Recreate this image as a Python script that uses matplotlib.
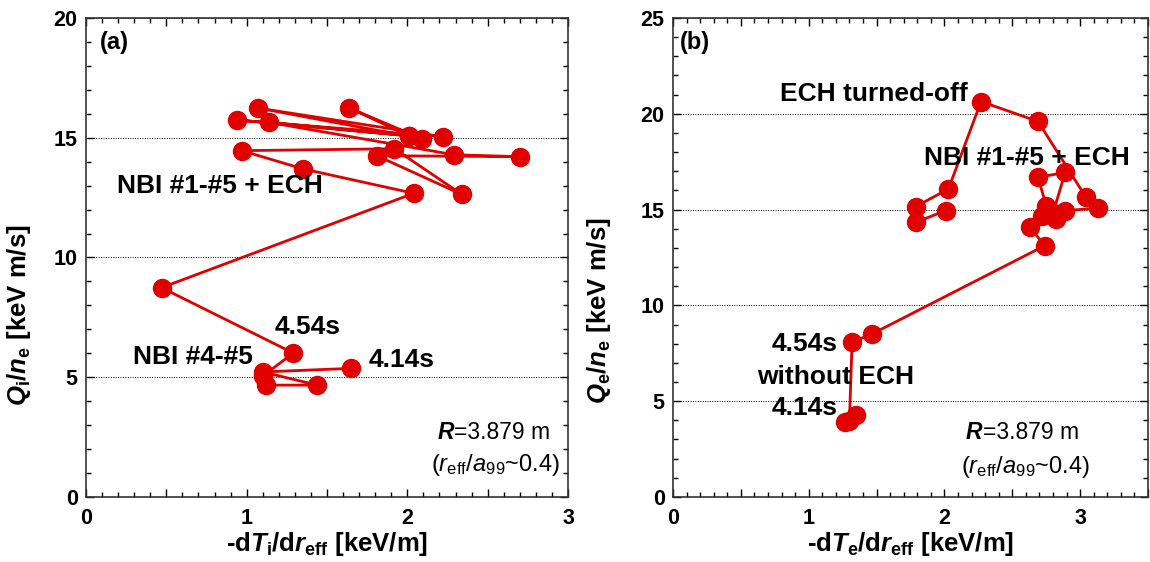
import matplotlib
matplotlib.use("Agg")
import matplotlib.pyplot as plt
from matplotlib.ticker import MultipleLocator, FuncFormatter

plt.rcParams["font.family"] = ["Liberation Sans", "DejaVu Sans"]
plt.rcParams["font.weight"] = "bold"
plt.rcParams["axes.labelweight"] = "bold"
plt.rcParams["mathtext.fontset"] = "custom"
plt.rcParams["mathtext.rm"] = "Liberation Sans:weight=bold"
plt.rcParams["mathtext.it"] = "Liberation Sans:style=italic:weight=bold"
plt.rcParams["mathtext.bf"] = "Liberation Sans:weight=bold"
plt.rcParams["mathtext.sf"] = "Liberation Sans:weight=normal"
plt.rcParams["mathtext.tt"] = "Liberation Sans:style=italic:weight=normal"

# (a) ion channel, time trajectory from 4.14 s
dTi = [1.65, 1.10, 1.44, 1.12, 1.10, 1.29, 0.47, 2.04, 1.35, 0.97, 1.92, 2.34,
       1.81, 2.70, 2.29, 1.14, 2.01, 0.94, 2.22, 1.07, 2.09, 1.64, 2.01]
Qi = [5.37, 5.22, 4.67, 4.67, 5.05, 6.01, 8.74, 12.68, 13.70, 14.46, 14.54, 12.63,
      14.25, 14.21, 14.29, 15.64, 15.08, 15.74, 15.04, 16.24, 14.96, 16.24, 15.08]

# (b) electron channel
dTe = [1.27, 1.35, 1.30, 1.32, 1.47, 2.74, 2.63, 2.72, 2.82, 2.75, 2.69, 2.89,
       2.80, 2.89, 3.13, 3.04, 2.69, 2.27, 2.03, 1.79, 1.79, 2.01]
Qe = [3.92, 4.30, 3.95, 8.09, 8.52, 13.12, 14.08, 14.69, 14.51, 15.21, 16.68, 16.94,
      14.80, 14.95, 15.07, 15.68, 19.60, 20.64, 16.08, 15.16, 14.34, 14.95]

red = "#e00000"

fig = plt.figure(figsize=(11.5, 5.62), dpi=100)
axa = fig.add_axes([0.0748, 0.1157, 0.4191, 0.8523])
axb = fig.add_axes([0.5852, 0.1157, 0.4130, 0.8523])


def style(ax, xmax, ymax):
    ax.set_xlim(0, xmax)
    ax.set_ylim(0, ymax)
    ax.xaxis.set_major_locator(MultipleLocator(0.5))
    ax.xaxis.set_minor_locator(MultipleLocator(0.1))
    ax.xaxis.set_major_formatter(FuncFormatter(lambda v, p: f"{v:.0f}" if abs(v - round(v)) < 1e-6 else ""))
    ax.yaxis.set_major_locator(MultipleLocator(5))
    ax.yaxis.set_minor_locator(MultipleLocator(1))
    ax.tick_params(which="both", direction="in", top=True, right=True, labelsize=15.5)
    ax.tick_params(which="major", length=6, width=1)
    ax.tick_params(which="minor", length=3.5, width=1)
    ax.tick_params(axis="x", which="major", pad=8)
    ax.tick_params(axis="y", which="major", pad=6)
    ax.grid(axis="y", which="major", linestyle=(0, (1, 1.5)), color="k", linewidth=0.7)
    for s in ax.spines.values():
        s.set_linewidth(1.2)
        s.set_color("#333333")


style(axa, 3, 20)
style(axb, 3.5, 25)

axa.plot(dTi, Qi, "-o", color=red, lw=2, ms=13, zorder=3)
axb.plot(dTe, Qe, "-o", color=red, lw=2, ms=13, zorder=3)

axa.set_xlabel(r"-d$T_{\mathrm{i}}$/d$r_{\mathrm{eff}}$ [keV/m]", fontsize=18.5)
axb.set_xlabel(r"-d$T_{\mathrm{e}}$/d$r_{\mathrm{eff}}$ [keV/m]", fontsize=18.5)
axa.set_ylabel(r"$Q_{\mathrm{i}}/n_{\mathrm{e}}$ [keV m/s]", fontsize=18.5)
axb.set_ylabel(r"$Q_{\mathrm{e}}/n_{\mathrm{e}}$ [keV m/s]", fontsize=18.5)
axa.xaxis.set_label_coords(0.5, -0.068)
axb.xaxis.set_label_coords(0.5, -0.068)
axa.yaxis.set_label_coords(-0.11, 0.38)
axb.yaxis.set_label_coords(-0.126, 0.39)

ann = dict(fontsize=19, fontweight="bold", va="center")
axa.text(0.029, 0.948, "(a)", transform=axa.transAxes, ha="left", fontsize=17, va="center")
axa.text(0.19, 13.0, "NBI #1-#5 + ECH", ha="left", **ann)
axa.text(1.175, 7.08, "4.54s", ha="left", **ann)
axa.text(0.29, 5.83, "NBI #4-#5", ha="left", **ann)
axa.text(1.76, 5.7, "4.14s", ha="left", **ann)

axb.text(0.015, 0.948, "(b)", transform=axb.transAxes, ha="left", fontsize=17, va="center")
axb.text(2.17, 21.04, "ECH turned-off", ha="right", **ann)
axb.text(1.85, 17.7, "NBI #1-#5 + ECH", ha="left", **ann)
axb.text(1.21, 8.0, "4.54s", ha="right", **ann)
axb.text(1.20, 6.25, "without ECH", ha="center", **ann)
axb.text(1.21, 4.63, "4.14s", ha="right", **ann)


def rlabel(ax, x, y1, y2):
    t = ax.text(x, y1, "R", fontsize=16.5, style="italic", fontweight="bold", ha="left", va="center")
    ax.annotate("=3.879 m", xy=(1, 0.5), xycoords=t, fontsize=16.5, fontweight="normal",
                ha="left", va="center")
    ax.text(x - 0.04, y2, r"($\mathtt{r}_{\mathsf{eff}}$/$\mathtt{a}_{\mathsf{99}}$~0.4)",
            fontsize=17, fontweight="normal", ha="left", va="center")


rlabel(axa, 2.19, 2.71, 1.33)
rlabel(axb, 2.16, 3.39, 1.56)

fig.savefig("out.png", dpi=100)
